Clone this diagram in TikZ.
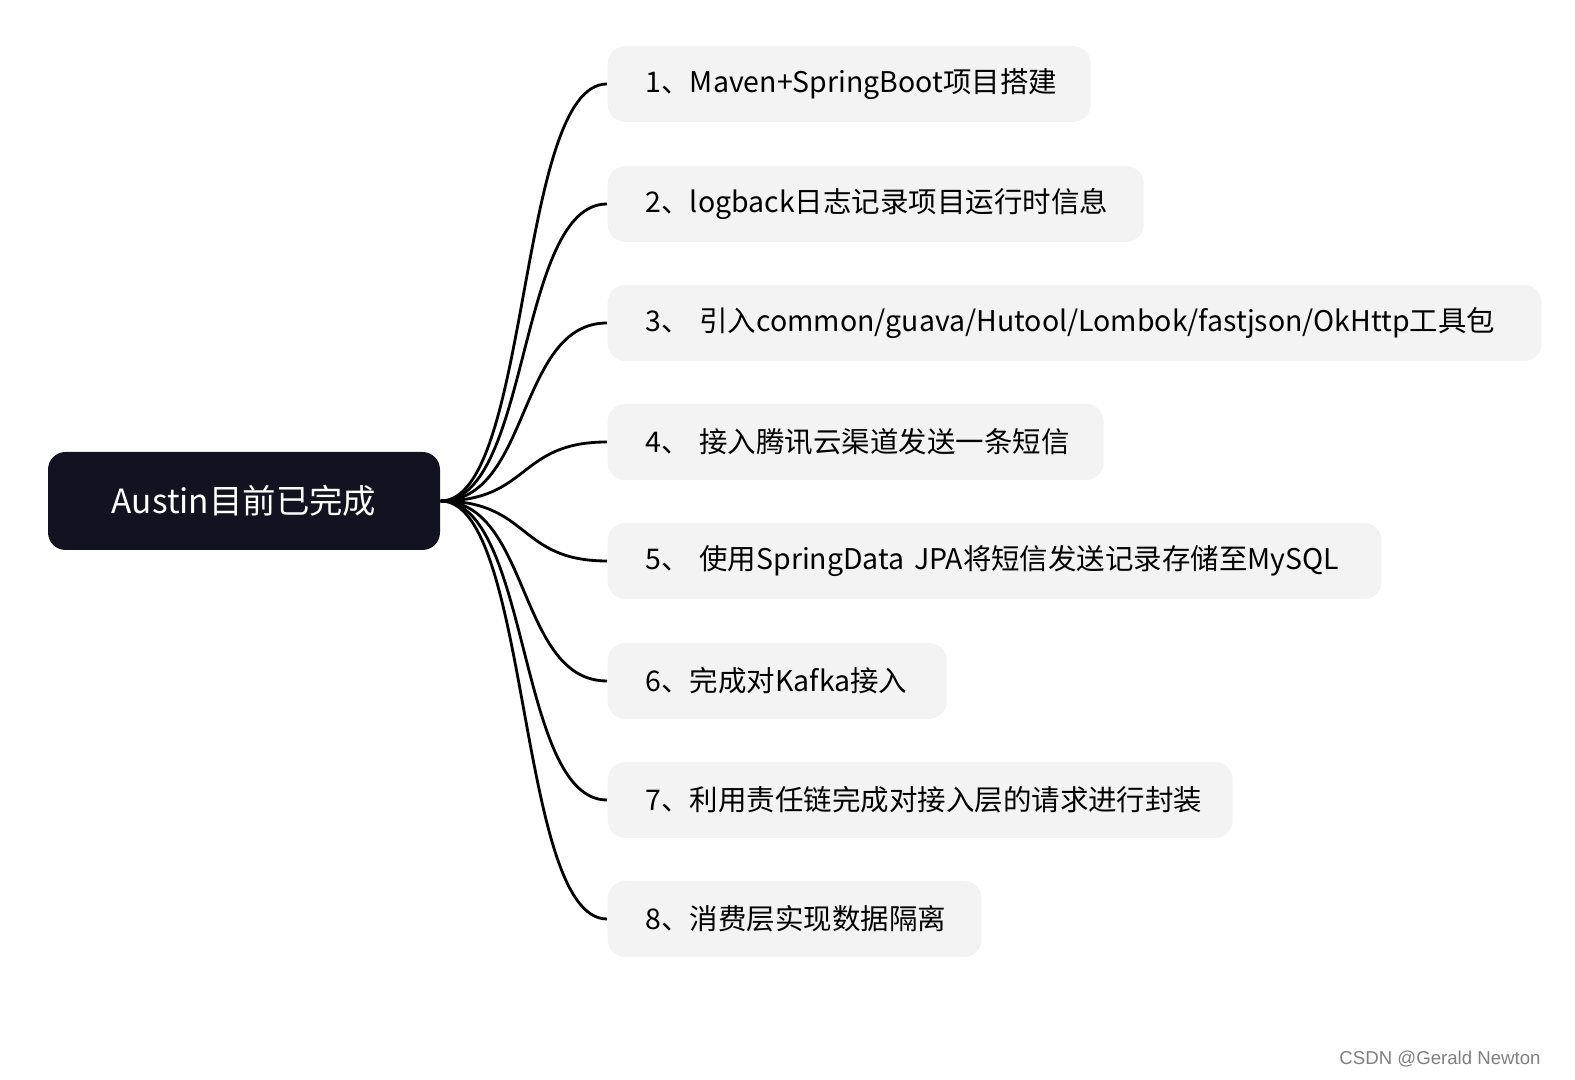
\documentclass[tikz,border=0pt]{standalone}
\usepackage{fontspec}
\setmainfont{Noto Sans CJK SC}
\newfontfamily\markfont{Liberation Sans}
\usetikzlibrary{positioning}
\definecolor{rootdark}{RGB}{18,18,32}
\definecolor{itemgray}{RGB}{243,243,243}

\begin{document}
\begin{tikzpicture}[
    root/.style={rectangle, fill=rootdark, rounded corners=5pt, text=white,
                 minimum width=3.92cm, minimum height=0.98cm, font=\fontsize{9.5}{11}\selectfont},
    item/.style={rectangle, fill=itemgray, rounded corners=5pt, anchor=west,
                 minimum height=0.76cm, inner xsep=0.38cm, text width=#1, align=left,
                 font=\fontsize{8.1}{10}\selectfont},
    branch/.style={thick, black}
]
\useasboundingbox (0,0) rectangle (15.75,10.8);

% Root
\node[root] (austin) at (2.44, 5.79) {Austin目前已完成};

% Items
\node[item=4.07cm] (s1) at (6.07, 9.96) {\mbox{1、Maven+SpringBoot项目搭建}};
\node[item=4.60cm] (s2) at (6.07, 8.76) {\mbox{2、logback日志记录项目运行时信息}};
\node[item=8.58cm] (s3) at (6.07, 7.57) {\mbox{3、 引入common/guava/Hutool/Lombok/fastjson/OkHttp工具包}};
\node[item=4.20cm] (s4) at (6.07, 6.38) {\mbox{4、 接入腾讯云渠道发送一条短信}};
\node[item=6.98cm] (s5) at (6.07, 5.19) {\mbox{5、 使用SpringData JPA将短信发送记录存储至MySQL}};
\node[item=2.63cm] (s6) at (6.07, 3.99) {\mbox{6、完成对Kafka接入}};
\node[item=5.49cm] (s7) at (6.07, 2.80) {\mbox{7、利用责任链完成对接入层的请求进行封装}};
\node[item=2.98cm] (s8) at (6.07, 1.61) {\mbox{8、消费层实现数据隔离}};

% Branches
\foreach \s in {s1,s2,s3,s4,s5,s6,s7,s8}
  \draw[branch] (austin.east) .. controls +(0.9,0) and +(-0.9,0) .. (\s.west);

% Watermark
\node[text=gray, font=\markfont\fontsize{5.3}{6}\selectfont, anchor=east] (mark) at (15.53, 0.21) {CSDN @Gerald Newton};
\end{tikzpicture}
\end{document}
